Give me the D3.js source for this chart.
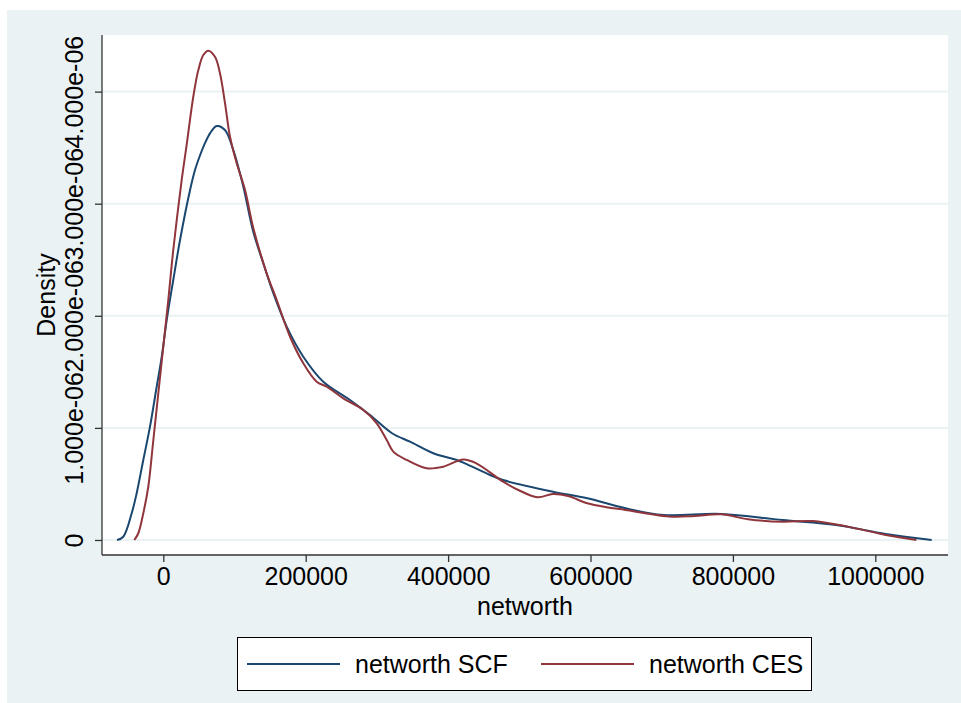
<!DOCTYPE html>
<html>
<head>
<meta charset="utf-8">
<script src="https://cdn.jsdelivr.net/npm/d3@7"></script>
<style>
  body { margin: 0; background: #fff; }
  svg text { font-family: "Liberation Sans", Arial, Helvetica, sans-serif; fill: #000; }
</style>
</head>
<body>
<svg id="chart" width="961" height="703"></svg>
<script>
// kernel density of networth
const scfX = [-65000, -56200, -44400, -37400, -28100, -18700, -9300, -2200, 4800, 14000, 23500, 37500, 44500, 51500, 58500, 65600, 75000, 86600, 98300, 112400, 126400, 140500, 154500, 173300, 196600, 224700, 262200, 290300, 321200, 346500, 379200, 412100, 423700, 458800, 477100, 547100, 595500, 649200, 703000, 783600, 869500, 944800, 1014700, 1079200];
const scfY = [0, 0.029e-6, 0.238e-6, 0.417e-6, 0.714e-6, 1.011e-6, 1.367e-6, 1.635e-6, 1.962e-6, 2.319e-6, 2.676e-6, 3.120e-6, 3.300e-6, 3.430e-6, 3.540e-6, 3.628e-6, 3.693e-6, 3.657e-6, 3.479e-6, 3.152e-6, 2.747e-6, 2.468e-6, 2.201e-6, 1.903e-6, 1.635e-6, 1.412e-6, 1.249e-6, 1.115e-6, 0.952e-6, 0.877e-6, 0.774e-6, 0.714e-6, 0.684e-6, 0.580e-6, 0.535e-6, 0.431e-6, 0.372e-6, 0.283e-6, 0.223e-6, 0.232e-6, 0.178e-6, 0.134e-6, 0.054e-6, 0];

const cesX = [-40700, -35100, -28100, -21100, -14000, -7000, 0, 7000, 14000, 25800, 32900, 42100, 49200, 56200, 63200, 72600, 79600, 86700, 93700, 103100, 114800, 126400, 145200, 159300, 178000, 196600, 215400, 229500, 252800, 280900, 299700, 313800, 323000, 341900, 369900, 393300, 421400, 439600, 477300, 498700, 525600, 547100, 568500, 595500, 622300, 649200, 713800, 745900, 783600, 821200, 869500, 912500, 961000, 1014700, 1057700];
const cesY = [0, 0.060e-6, 0.238e-6, 0.475e-6, 0.892e-6, 1.309e-6, 1.724e-6, 2.141e-6, 2.587e-6, 3.211e-6, 3.530e-6, 3.954e-6, 4.192e-6, 4.326e-6, 4.365e-6, 4.311e-6, 4.163e-6, 3.895e-6, 3.597e-6, 3.360e-6, 3.122e-6, 2.783e-6, 2.379e-6, 2.141e-6, 1.813e-6, 1.576e-6, 1.412e-6, 1.367e-6, 1.264e-6, 1.160e-6, 1.041e-6, 0.892e-6, 0.788e-6, 0.714e-6, 0.640e-6, 0.654e-6, 0.718e-6, 0.684e-6, 0.520e-6, 0.446e-6, 0.381e-6, 0.410e-6, 0.392e-6, 0.327e-6, 0.292e-6, 0.268e-6, 0.208e-6, 0.214e-6, 0.229e-6, 0.185e-6, 0.163e-6, 0.169e-6, 0.119e-6, 0.045e-6, 0];

const xTicks = [0, 200000, 400000, 600000, 800000, 1000000];
const yTicks = [0, 1e-6, 2e-6, 3e-6, 4e-6];
const seriesNames = ["networth SCF", "networth CES"];
const seriesColors = ["#1a476f", "#90353b"];

const svg = d3.select("#chart");
const plot = { left: 102, right: 948, top: 35, bottom: 555 };
const fontSize = 25;

const x = d3.scaleLinear().domain([-86100, 1102100]).range([plot.left, plot.right]);
const y = d3.scaleLinear().domain([-0.134e-6, 4.505e-6]).range([plot.bottom, plot.top]);

// outer background and plot region
svg.append("rect").attr("x", 7).attr("y", 10).attr("width", 954).attr("height", 693).attr("fill", "#eaf2f3");
svg.append("rect")
  .attr("x", plot.left).attr("y", plot.top)
  .attr("width", plot.right - plot.left).attr("height", plot.bottom - plot.top)
  .attr("fill", "#fff");

// gridlines
svg.append("g")
  .selectAll("line")
  .data(yTicks)
  .join("line")
  .attr("x1", plot.left).attr("x2", plot.right)
  .attr("y1", d => y(d)).attr("y2", d => y(d))
  .attr("stroke", "#eaf2f3")
  .attr("stroke-width", 2);

// curves
const series = [
  scfX.map((v, i) => ({ x: v, y: scfY[i] })),
  cesX.map((v, i) => ({ x: v, y: cesY[i] }))
];
const line = d3.line().x(d => x(d.x)).y(d => y(d.y)).curve(d3.curveCatmullRom.alpha(0.5));

svg.append("g")
  .selectAll("path")
  .data(series)
  .join("path")
  .attr("d", line)
  .attr("fill", "none")
  .attr("stroke", (d, i) => seriesColors[i])
  .attr("stroke-width", 2);

// axes
const fmtY = d => d === 0 ? "0" : d.toExponential(3).replace(/e-(\d)$/, "e-0$1");

const xAxis = svg.append("g")
  .attr("transform", `translate(0,${plot.bottom})`)
  .call(d3.axisBottom(x).tickValues(xTicks).tickSize(7).tickPadding(5).tickFormat(d3.format("d")));
const yAxis = svg.append("g")
  .attr("transform", `translate(${plot.left},0)`)
  .call(d3.axisLeft(y).tickValues(yTicks).tickSize(7).tickFormat(fmtY));

[xAxis, yAxis].forEach(g => {
  g.select(".domain").attr("stroke", "#333").attr("stroke-width", 1.3);
  g.selectAll(".tick line").attr("stroke", "#333").attr("stroke-width", 1.3);
  g.selectAll("text").attr("font-size", fontSize).attr("fill", "#000")
    .attr("font-family", "'Liberation Sans', Arial, sans-serif");
});
xAxis.select(".domain").attr("d", `M${plot.left},0H${plot.right}`);
yAxis.select(".domain").attr("d", `M0,${plot.top}V${plot.bottom}`);

yAxis.selectAll(".tick text")
  .attr("x", null).attr("dy", null)
  .attr("text-anchor", "middle")
  .attr("transform", "translate(-19,0) rotate(-90)");

// axis titles
svg.append("text")
  .attr("x", (plot.left + plot.right) / 2).attr("y", 615)
  .attr("text-anchor", "middle").attr("font-size", fontSize)
  .text("networth");
svg.append("text")
  .attr("transform", `translate(55,${(plot.top + plot.bottom) / 2}) rotate(-90)`)
  .attr("text-anchor", "middle").attr("font-size", fontSize)
  .text("Density");

// legend
const legend = svg.append("g");
legend.append("rect")
  .attr("x", 237.5).attr("y", 637.5).attr("width", 574).attr("height", 53)
  .attr("fill", "#fff").attr("stroke", "#000").attr("stroke-width", 1);

const keys = legend.selectAll("g.key")
  .data(seriesNames)
  .join("g")
  .attr("class", "key")
  .attr("transform", (d, i) => `translate(${i === 0 ? 247 : 541},664)`);
keys.append("line")
  .attr("x1", 0).attr("x2", 93)
  .attr("stroke", (d, i) => seriesColors[i])
  .attr("stroke-width", 2);
keys.append("text")
  .attr("x", 108).attr("y", 9)
  .attr("font-size", fontSize)
  .text(d => d);
</script>
</body>
</html>
